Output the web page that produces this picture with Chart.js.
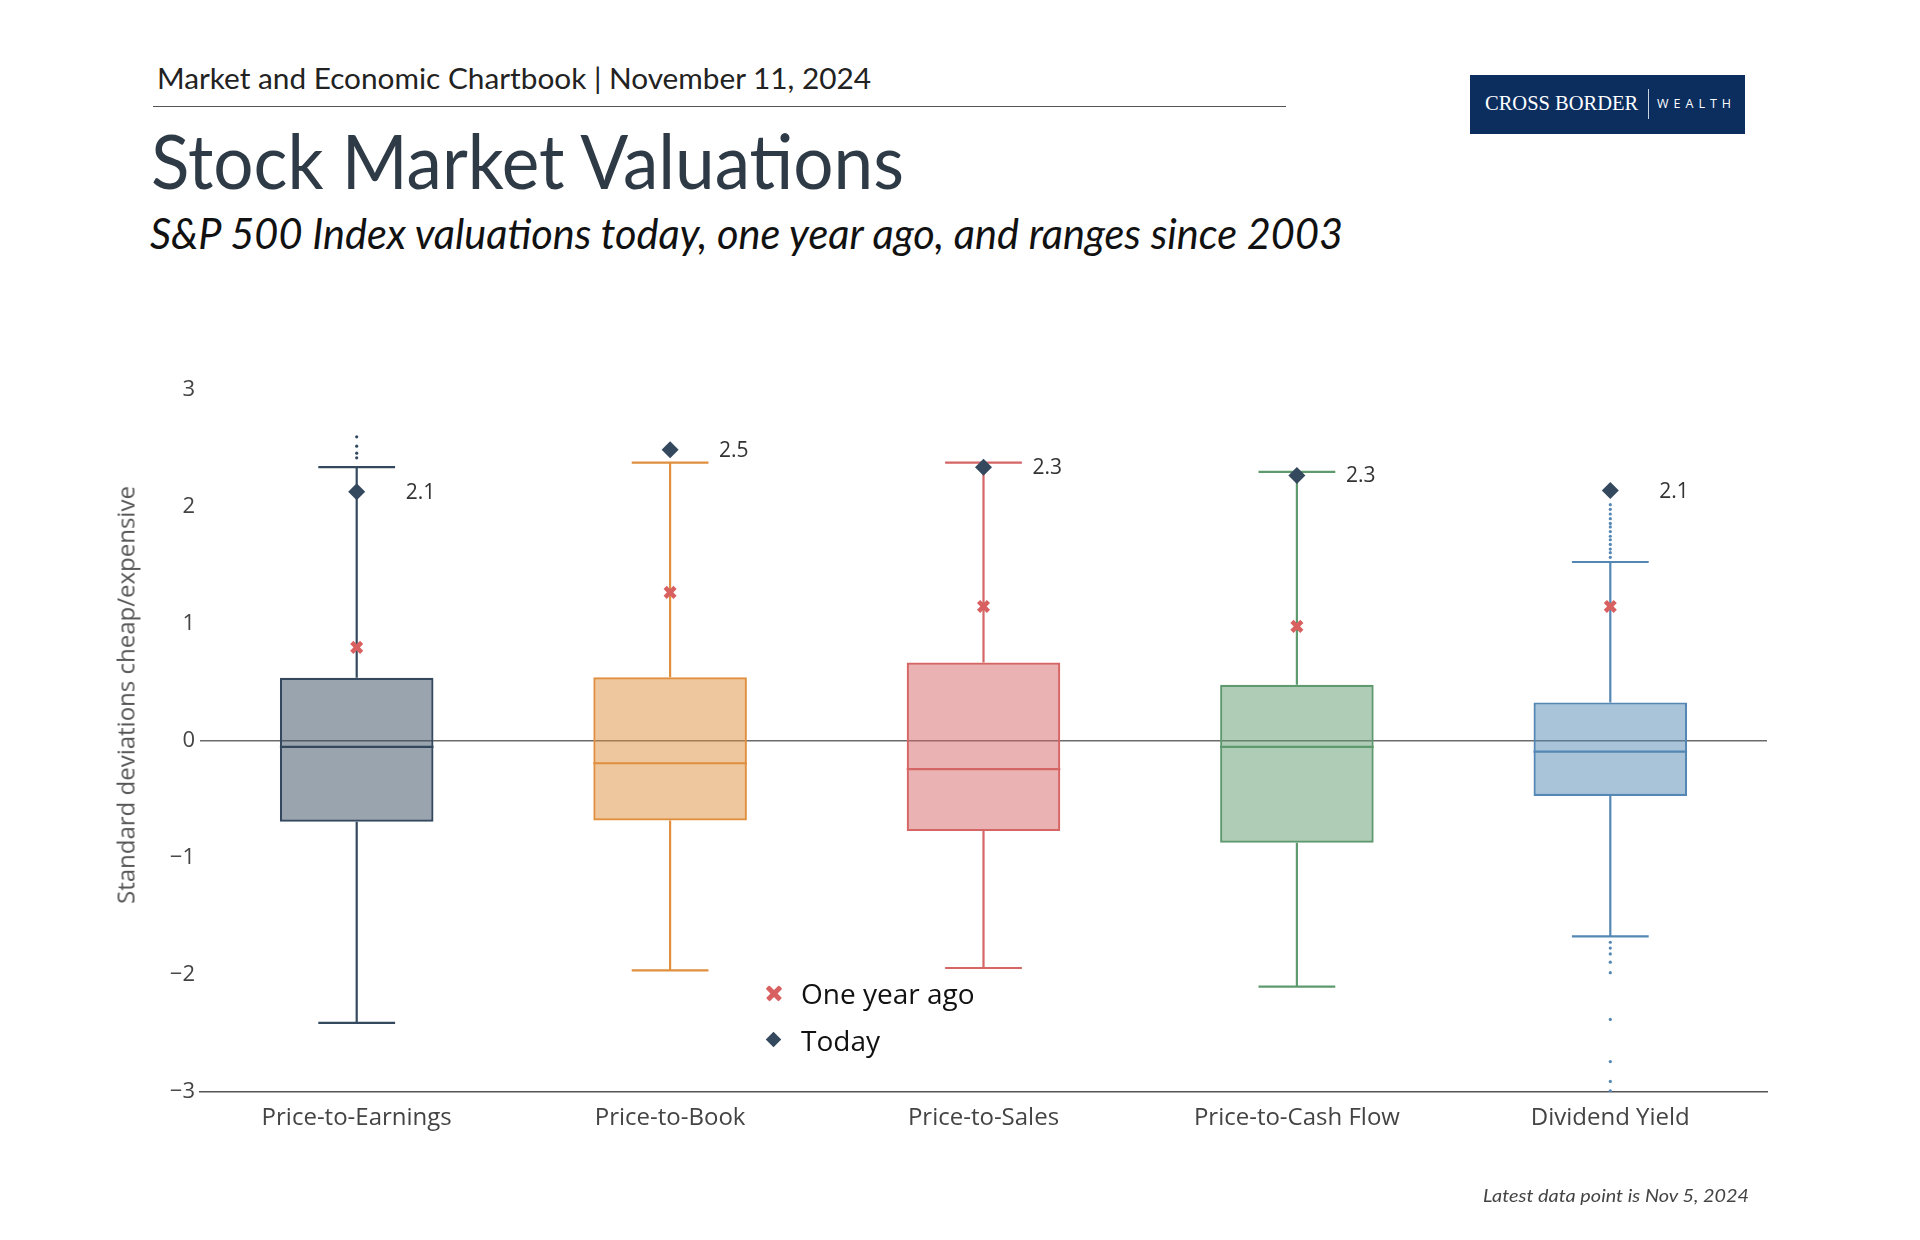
<!DOCTYPE html>
<html>
<head>
<meta charset="utf-8">
<script src="https://cdn.jsdelivr.net/npm/chart.js@4.4.1/dist/chart.umd.min.js"></script>
<style>
  html, body { margin:0; padding:0; background:#fff; }
  body { width:1920px; height:1240px; position:relative; overflow:hidden; }
  .t { position:absolute; white-space:nowrap; line-height:1.2; transform-origin:left top; }
  #header { left:157px; top:62px; font-family:Lato, sans-serif; font-size:28px; color:#222; }
  #rule { position:absolute; left:153px; top:106px; width:1133px; height:0; border-top:1.5px solid #555; }
  #title { left:151px; top:115px; font-family:Lato, sans-serif; font-size:75px; color:#2e3a45; }
  #subtitle { left:150px; top:208px; font-family:Lato, sans-serif; font-style:italic; font-size:42px; color:#111; }
  #logo { position:absolute; left:1470px; top:75px; width:275px; height:59px; background:#0b2e5f; color:#fff; }
  #logo .a { position:absolute; left:15px; top:18px; font-family:"Liberation Serif", serif; font-size:20.5px; line-height:1; white-space:nowrap; }
  #logo .bar { position:absolute; left:178px; top:14px; width:1px; height:30px; background:#c9d3e2; }
  #logo .b { position:absolute; left:187px; top:23px; font-family:"Open Sans", sans-serif; font-size:12.5px; letter-spacing:5px; line-height:1; white-space:nowrap; }
  #ytitle { position:absolute; left:125px; top:695px; transform:translate(-50%,-50%) rotate(-90deg); font-family:"Open Sans", sans-serif; font-size:24px; color:#555; white-space:nowrap; }
  #footer { top:1185px; font-family:Lato, sans-serif; font-style:italic; font-size:18px; color:#444; }
  .lg { position:absolute; left:760px; height:40px; display:flex; align-items:center; font-family:"Open Sans", sans-serif; font-size:28px; color:#111; white-space:nowrap; }
  .lg .m { width:28px; height:28px; position:relative; margin-right:13px; }
  .xm span { position:absolute; left:5px; top:12px; width:18px; height:4.5px; background:#d96060; border-radius:1px; }
  .dm span { position:absolute; left:8px; top:8px; width:11px; height:11px; background:#34495e; transform:rotate(45deg); }
  #wrap { position:absolute; left:0; top:0; width:1920px; height:1240px; }
</style>
</head>
<body>
<div id="header" class="t">Market and Economic Chartbook | November 11, 2024</div>
<div id="rule"></div>
<div id="title" class="t">Stock Market Valuations</div>
<div id="subtitle" class="t">S&amp;P 500 Index valuations today, one year ago, and ranges since 2003</div>
<div id="logo"><div class="a">CROSS BORDER</div><div class="bar"></div><div class="b">WEALTH</div></div>
<div id="wrap"><canvas id="c" width="1920" height="1240"></canvas></div>
<div id="ytitle">Standard deviations cheap/expensive</div>
<div class="lg" style="top:973px;"><div class="m xm"><span style="transform:rotate(45deg)"></span><span style="transform:rotate(-45deg)"></span></div>One year ago</div>
<div class="lg" style="top:1020px;"><div class="m dm"><span></span></div>Today</div>
<div id="footer" class="t">Latest data point is Nov 5, 2024</div>
<script>
// ---------- data ----------
const categories = ['Price-to-Earnings', 'Price-to-Book', 'Price-to-Sales', 'Price-to-Cash Flow', 'Dividend Yield'];
const whiskerLow  = [-2.41, -1.96, -1.94, -2.10, -1.67];
const q1          = [-0.69, -0.68, -0.77, -0.87, -0.47];
const median      = [-0.05, -0.19, -0.24, -0.05, -0.09];
const q3          = [0.54, 0.545, 0.67, 0.48, 0.33];
const whiskerHigh = [2.34, 2.38, 2.38, 2.30, 1.53];
const oneYearAgo  = [0.80, 1.27, 1.15, 0.98, 1.15];
const today       = [2.13, 2.49, 2.34, 2.27, 2.14];
const todayLabels = ['2.1', '2.5', '2.3', '2.3', '2.1'];
const peOutliers  = [2.42, 2.46, 2.52, 2.60];
const dyOutliers  = [1.57, 1.61, 1.64, 1.68, 1.72, 1.75, 1.79, 1.83, 1.86, 1.90, 1.94, 1.98, 2.02,
                     -1.72, -1.77, -1.82, -1.89, -1.98, -2.38, -2.74, -2.91, -2.99];
const yTicks = [-3, -2, -1, 0, 1, 2, 3];

// ---------- styles ----------
const strokeColors = ['#34495e', '#e08f3e', '#d66565', '#5f9a6f', '#5487b4'];
const fillColors = ['rgba(52,73,94,0.5)', 'rgba(224,143,62,0.5)', 'rgba(214,101,101,0.5)', 'rgba(95,154,111,0.5)', 'rgba(84,135,180,0.5)'];

function fitW(id, w) {
  const el = document.getElementById(id);
  el.style.transform = 'none';
  const r = el.getBoundingClientRect();
  el.style.transform = 'scaleX(' + (w / r.width) + ')';
}
function fitRight(id, right, w) {
  const el = document.getElementById(id);
  el.style.left = (right - w) + 'px';
  fitW(id, w);
}
function doFit() {
  fitW('header', 714);
  fitW('title', 753);
  fitW('subtitle', 1193);
  fitRight('footer', 1749, 266);
}
doFit();
if (document.fonts && document.fonts.ready) document.fonts.ready.then(doFit);

const outlierData = [];
peOutliers.forEach(v => outlierData.push({x: categories[0], y: v}));
dyOutliers.forEach(v => outlierData.push({x: categories[4], y: v}));
const outlierColors = outlierData.map(p => strokeColors[categories.indexOf(p.x)]);

const boxPlugin = {
  id: 'boxParts',
  afterDatasetDraw(chart, args) {
    if (args.index !== 0) return;
    const ctx = chart.ctx;
    const y = chart.scales.y;
    const meta = chart.getDatasetMeta(0);
    ctx.save();
    ctx.lineWidth = 2.2;
    meta.data.forEach((bar, i) => {
      const cx = bar.x;
      const half = bar.width / 2;
      const capHalf = bar.width / 4;
      ctx.strokeStyle = strokeColors[i];
      ctx.beginPath();
      ctx.moveTo(cx - half, y.getPixelForValue(median[i]));
      ctx.lineTo(cx + half, y.getPixelForValue(median[i]));
      ctx.moveTo(cx, y.getPixelForValue(q3[i]));
      ctx.lineTo(cx, y.getPixelForValue(whiskerHigh[i]));
      ctx.moveTo(cx - capHalf, y.getPixelForValue(whiskerHigh[i]));
      ctx.lineTo(cx + capHalf, y.getPixelForValue(whiskerHigh[i]));
      ctx.moveTo(cx, y.getPixelForValue(q1[i]));
      ctx.lineTo(cx, y.getPixelForValue(whiskerLow[i]));
      ctx.moveTo(cx - capHalf, y.getPixelForValue(whiskerLow[i]));
      ctx.lineTo(cx + capHalf, y.getPixelForValue(whiskerLow[i]));
      ctx.stroke();
    });
    ctx.restore();
  },
  afterDatasetsDraw(chart) {
    const ctx = chart.ctx;
    const meta = chart.getDatasetMeta(2);
    ctx.save();
    ctx.font = '21px "Open Sans"';
    ctx.fillStyle = '#333';
    ctx.textAlign = 'left';
    ctx.textBaseline = 'middle';
    meta.data.forEach((pt, i) => {
      ctx.fillText(todayLabels[i], pt.x + 49, pt.y + 1);
    });
    ctx.restore();
  }
};

Chart.defaults.font.family = '"Open Sans", sans-serif';
new Chart(document.getElementById('c'), {
  type: 'bar',
  data: {
    labels: categories,
    datasets: [
      {
        label: 'Range',
        data: q1.map((v, i) => [v, q3[i]]),
        backgroundColor: fillColors,
        borderColor: strokeColors,
        borderWidth: 2.2,
        borderSkipped: false,
        barPercentage: 0.49,
        categoryPercentage: 1.0,
        order: 10
      },
      {
        type: 'line',
        label: 'One year ago',
        data: oneYearAgo,
        showLine: false,
        pointStyle: 'crossRot',
        pointRadius: 7,
        pointBorderWidth: 4.5,
        pointBorderColor: '#d96060',
        pointBackgroundColor: '#d96060',
        order: 2
      },
      {
        type: 'line',
        label: 'Today',
        data: today,
        showLine: false,
        pointStyle: 'rectRot',
        pointRadius: 8.5,
        pointBorderWidth: 0,
        pointBackgroundColor: '#34495e',
        pointBorderColor: '#34495e',
        order: 1
      },
      {
        type: 'line',
        label: 'Outliers',
        data: outlierData,
        showLine: false,
        pointStyle: 'circle',
        pointRadius: 1.6,
        pointBorderWidth: 0,
        pointBackgroundColor: outlierColors,
        order: 3
      }
    ]
  },
  options: {
    responsive: false,
    animation: false,
    events: [],
    layout: { padding: { left: 0, right: 153, top: 390, bottom: 0 } },
    plugins: { legend: { display: false }, tooltip: { enabled: false }, title: { display: false } },
    scales: {
      x: {
        type: 'category',
        offset: true,
        grid: { display: false, drawTicks: false },
        border: { display: true, color: '#555', width: 1.5 },
        ticks: { color: '#444', font: { size: 24 }, padding: 12 },
        afterFit(s) { s.height = 148; }
      },
      y: {
        min: -3, max: 3,
        afterBuildTicks(s) { s.ticks = yTicks.map(v => ({ value: v })); },
        grid: {
          drawTicks: false,
          color: ctx => (ctx.tick && ctx.tick.value === 0) ? '#6b6b6b' : 'rgba(0,0,0,0)',
          lineWidth: 1.5
        },
        border: { display: false },
        ticks: {
          color: '#444', font: { size: 22 }, padding: 5,
          callback: v => (v < 0 ? '\u2212' + Math.abs(v) : String(v))
        },
        afterFit(s) { s.width = 200; }
      }
    }
  },
  plugins: [boxPlugin]
});
</script>
</body>
</html>
